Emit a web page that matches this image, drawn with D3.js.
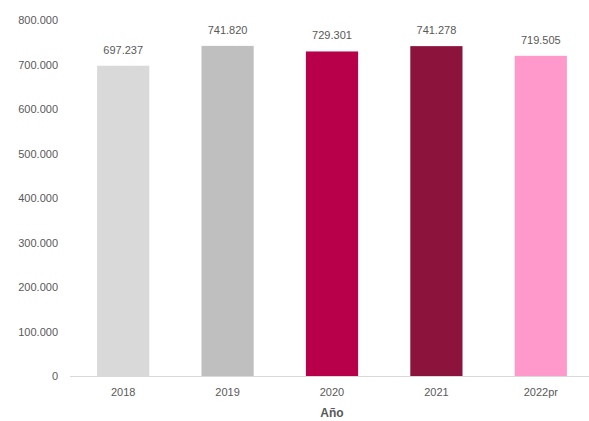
<!DOCTYPE html>
<html>
<head>
<meta charset="utf-8">
<script src="https://cdn.jsdelivr.net/npm/d3@7"></script>
<style>
  body { margin: 0; background: #fff; }
  text { font-family: "Liberation Sans", Arial, sans-serif; fill: #595959; }
</style>
</head>
<body>
<script>
// datos
var anios = ["2018", "2019", "2020", "2021", "2022pr"];
var valores = [697237, 741820, 729301, 741278, 719505];
var colores = ["#d9d9d9", "#bfbfbf", "#b8004a", "#8c133b", "#ff99cc"];
var ticksY = [0, 100000, 200000, 300000, 400000, 500000, 600000, 700000, 800000];

var ancho = 589, alto = 421;
var m = { left: 71, right: -4, top: 20, bottom: 45 };

var fmt = function(v) { return d3.format(",")(v).replace(/,/g, "."); };

var svg = d3.select("body").append("svg")
    .attr("width", ancho)
    .attr("height", alto);

var x = d3.scaleBand()
    .domain(anios)
    .range([m.left, ancho - m.right])
    .paddingInner(0.5)
    .paddingOuter(0.25);

var y = d3.scaleLinear()
    .domain([0, 800000])
    .range([alto - m.bottom, m.top]);

// eje y (solo etiquetas)
svg.selectAll(".ty")
    .data(ticksY)
    .enter()
    .append("text")
    .attr("x", 58)
    .attr("y", function(d) { return y(d) + 4; })
    .attr("text-anchor", "end")
    .attr("font-size", 11)
    .text(fmt);

// barras
svg.selectAll("rect")
    .data(valores)
    .enter()
    .append("rect")
    .attr("x", function(d, i) { return x(anios[i]); })
    .attr("y", function(d) { return y(d); })
    .attr("width", x.bandwidth())
    .attr("height", function(d) { return y(0) - y(d); })
    .attr("fill", function(d, i) { return colores[i]; });

// linea del eje x
svg.append("line")
    .attr("x1", m.left - 1)
    .attr("x2", ancho)
    .attr("y1", y(0) + 0.5)
    .attr("y2", y(0) + 0.5)
    .attr("stroke", "#d9d9d9")
    .attr("stroke-width", 1);

// etiquetas de valor
svg.selectAll(".val")
    .data(valores)
    .enter()
    .append("text")
    .attr("x", function(d, i) { return x(anios[i]) + x.bandwidth() / 2; })
    .attr("y", function(d) { return y(d) - 12; })
    .attr("text-anchor", "middle")
    .attr("font-size", 11)
    .text(fmt);

// etiquetas eje x
svg.selectAll(".tx")
    .data(anios)
    .enter()
    .append("text")
    .attr("x", function(d) { return x(d) + x.bandwidth() / 2; })
    .attr("y", y(0) + 20)
    .attr("text-anchor", "middle")
    .attr("font-size", 11)
    .text(function(d) { return d; });

// titulo eje
svg.append("text")
    .attr("x", x("2020") + x.bandwidth() / 2)
    .attr("y", 417)
    .attr("text-anchor", "middle")
    .attr("font-size", 12)
    .attr("font-weight", "bold")
    .text("Año");
</script>
</body>
</html>
